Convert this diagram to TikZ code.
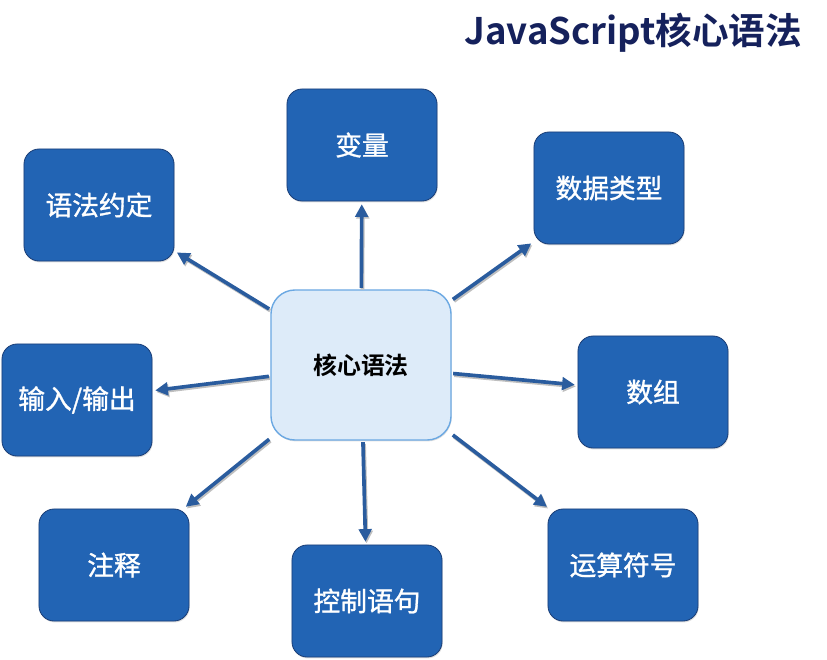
\documentclass[tikz,border=0pt]{standalone}
\usepackage{fontspec}
\setmainfont{Noto Sans CJK SC}
\newfontfamily\cjkbold{Noto Sans CJK SC Bold}
\newfontfamily\cjkmedio{Noto Sans CJK SC}[FakeBold=1.2]
\usetikzlibrary{arrows.meta,shadows}

\definecolor{cajaazul}{HTML}{2264B4}
\definecolor{bordeazul}{HTML}{1B3F78}
\definecolor{flechaazul}{HTML}{2A5C9E}
\definecolor{centrofondo}{HTML}{DDEBF9}
\definecolor{centroborde}{HTML}{6BA8E2}
\definecolor{titulo}{HTML}{15215C}

\begin{document}
\begin{tikzpicture}[x=0.025cm, y=-0.025cm,
    caja/.style={draw=bordeazul, line width=0.6pt, fill=cajaazul, rounded corners=0.38cm,
        minimum width=3.75cm, minimum height=2.8cm, text=white,
        font=\cjkmedio\fontsize{19}{22}\selectfont,
        drop shadow={shadow xshift=0.5pt, shadow yshift=-1pt, opacity=0.25}},
    centro/.style={draw=centroborde, line width=1pt, fill=centrofondo, rounded corners=0.6cm,
        minimum width=4.5cm, minimum height=3.75cm, font=\cjkbold\fontsize{17}{20}\selectfont,
        drop shadow={shadow xshift=0.5pt, shadow yshift=-1pt, opacity=0.25}},
    flecha/.style={draw=flechaazul, line width=2.6pt,
        -{Triangle[length=9pt, width=9pt]}, shorten >=2pt, shorten <=1pt,
        preaction={draw=black!25, line width=2.6pt, transform canvas={xshift=0.8pt, yshift=-1.2pt}}}]

    % marco de la figura
    \useasboundingbox (0,0) rectangle (827,659);

    % 1. Titulo
    \node[anchor=east, text=titulo, font=\cjkbold\fontsize{26}{30}\selectfont] (titulo) at (807,33) {JavaScript核心语法};

    % 2. Nodo central
    \node[centro] (nucleo) at (361,365) {核心语法};

    % 3. Cajas alrededor
    \node[caja] (convencion) at (99,205) {语法约定};
    \node[caja] (variable) at (362,145) {变量};
    \node[caja] (tipos) at (609,188) {数据类型};
    \node[caja] (entrada) at (77,400) {输入/输出};
    \node[caja] (arreglo) at (653,392) {数组};
    \node[caja] (comentario) at (114,565) {注释};
    \node[caja] (control) at (367,601) {控制语句};
    \node[caja] (operador) at (623,565) {运算符号};

    % 4. Flechas desde el centro
    \foreach \destino in {convencion,variable,tipos,entrada,arreglo,comentario,control,operador}
        \draw[flecha] (nucleo) -- (\destino);
\end{tikzpicture}
\end{document}
